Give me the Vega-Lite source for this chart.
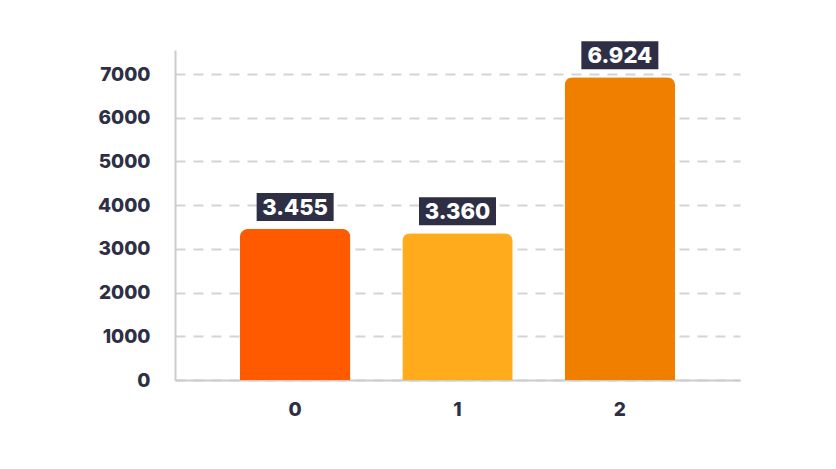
{
  "$schema": "https://vega.github.io/schema/vega-lite/v6.json",
  "width": 565,
  "height": 330,
  "autosize": {"type": "none"},
  "padding": {"left": 175, "top": 50, "right": 96, "bottom": 89},
  "background": "white",
  "config": {
    "view": {"stroke": null},
    "locale": {"number": {"decimal": ",", "thousands": ".", "grouping": [3], "currency": ["", "€"]}}
  },
  "data": {"values": [
    {"cat": "0", "value": 3455},
    {"cat": "1", "value": 3360},
    {"cat": "2", "value": 6924}
  ]},
  "encoding": {
    "x": {
      "field": "cat", "type": "nominal",
      "scale": {"paddingInner": 0.32, "paddingOuter": 0.4},
      "axis": {
        "title": null, "labelAngle": 0, "labelFont": "Inter", "labelFontWeight": 800,
        "labelFontSize": 19, "labelColor": "#2e2f45", "labelPadding": 20,
        "ticks": false, "domainColor": "#cccccc", "domainWidth": 2, "grid": false
      }
    }
  },
  "layer": [
    {
      "mark": {"type": "bar", "cornerRadiusTopLeft": 8, "cornerRadiusTopRight": 8},
      "encoding": {
        "y": {
          "field": "value", "type": "quantitative",
          "scale": {"domain": [0, 7550], "nice": false},
          "axis": {
            "title": null, "values": [0, 1000, 2000, 3000, 4000, 5000, 6000, 7000], "format": "d",
            "labelFont": "Inter", "labelFontWeight": 800, "labelFontSize": 19,
            "labelColor": "#2e2f45", "labelPadding": 25, "ticks": false,
            "domainColor": "#cccccc", "domainWidth": 2,
            "grid": true, "gridColor": "#d4d4d4", "gridDash": [10, 8], "gridWidth": 2
          }
        },
        "color": {
          "field": "cat", "type": "nominal", "legend": null,
          "scale": {"domain": ["0", "1", "2"], "range": ["#ff5a00", "#ffab1b", "#f07f00"]}
        }
      }
    },
    {
      "mark": {"type": "rect", "height": 28, "width": 77, "yOffset": -22, "color": "#2e2f45"},
      "encoding": {
        "y": {"field": "value", "type": "quantitative"}
      }
    },
    {
      "mark": {"type": "text", "yOffset": -21, "color": "white", "font": "Inter", "fontWeight": 800, "fontSize": 22, "baseline": "middle"},
      "encoding": {
        "y": {"field": "value", "type": "quantitative"},
        "text": {"field": "value", "type": "quantitative", "format": ",d"}
      }
    }
  ]
}
